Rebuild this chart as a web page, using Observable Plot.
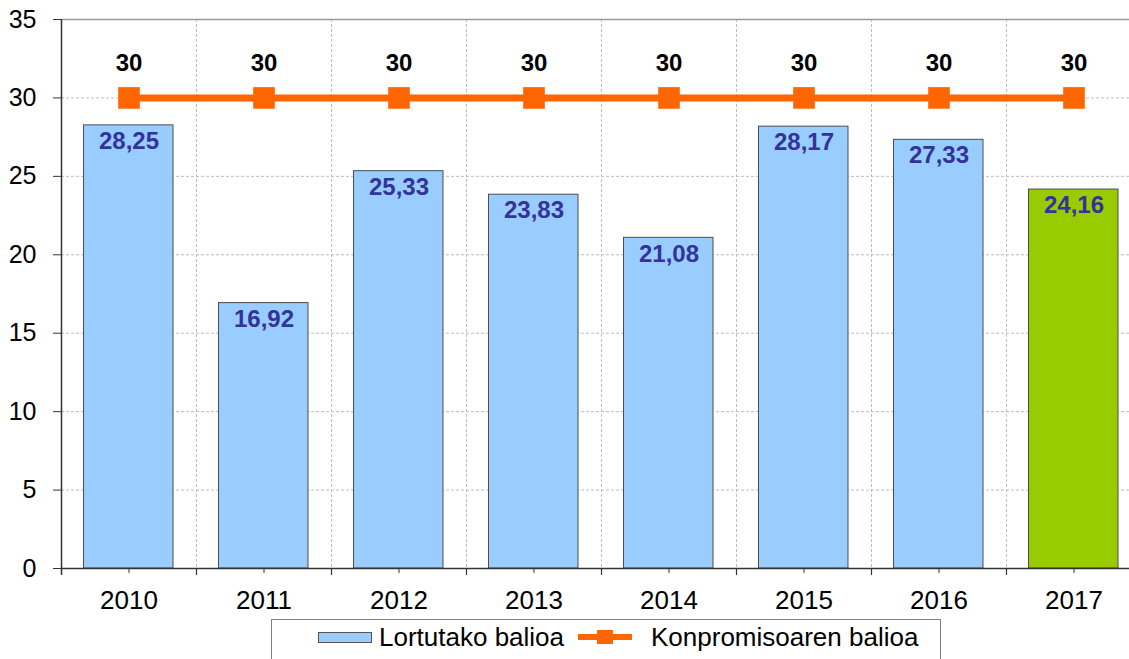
<!DOCTYPE html>
<html>
<head>
<meta charset="utf-8">
<script src="https://cdn.jsdelivr.net/npm/d3@7"></script>
<script src="https://cdn.jsdelivr.net/npm/@observablehq/plot@0.6"></script>
<style>
  html, body { margin: 0; padding: 0; background: #fff; }
  body { font-family: "Liberation Sans", Arial, sans-serif; }
  #wrap { position: relative; width: 1129px; height: 659px; overflow: hidden; }
  #legend { position: absolute; left: 271px; top: 619px; width: 668px; height: 60px;
            border: 1px solid #808080; background: #fff; }
  .sw-bar { position: absolute; left: 46px; top: 12px; width: 52px; height: 9px;
            background: #99CCFF; border: 1px solid #555; }
  .sw-line { position: absolute; left: 306px; top: 14px; width: 54px; height: 6px; background: #FF6600; }
  .sw-sq { position: absolute; left: 325px; top: 10px; width: 16px; height: 14px; background: #FF6600; }
  .lt { position: absolute; top: 2px; font-size: 26px; line-height: 30px; color: #000; white-space: nowrap; }
</style>
</head>
<body>
<div id="wrap">
  <div id="chart"></div>
  <div id="legend">
    <div class="sw-bar"></div>
    <div class="lt" style="left:107px">Lortutako balioa</div>
    <div class="sw-line"></div>
    <div class="sw-sq"></div>
    <div class="lt" style="left:379px">Konpromisoaren balioa</div>
  </div>
</div>
<script>
const years = ["2010", "2011", "2012", "2013", "2014", "2015", "2016", "2017"];
const achieved = [28.25, 16.92, 25.33, 23.83, 21.08, 28.17, 27.33, 24.16];
const commitment = [30, 30, 30, 30, 30, 30, 30, 30];
const yTicks = [0, 5, 10, 15, 20, 25, 30, 35];
const currentYear = "2017";

const bars = years.map((year, i) => ({year, value: achieved[i]}));
const target = years.map((year, i) => ({year, value: commitment[i]}));
const fmt = v => v.toFixed(2).replace(".", ",");

const W = 1129, H = 616;
const xRange = [61, 1141];
const step = (xRange[1] - xRange[0]) / years.length;
const font = "Liberation Sans, Arial, sans-serif";

const chart = Plot.plot({
  width: W,
  height: H,
  marginLeft: 61,
  marginRight: 0,
  marginTop: 19,
  marginBottom: 48,
  style: {fontFamily: font, background: "#fff", overflow: "visible"},
  x: {type: "band", domain: years, range: xRange, padding: 0},
  y: {domain: [0, 35]},
  marks: [
    // horizontal dashed grid
    Plot.ruleY(yTicks.filter(d => d > 0 && d < 35), {stroke: "#bdbdbd", strokeDasharray: "3,2"}),
    // vertical dashed grid at category boundaries
    Plot.ruleX(years.slice(1), {dx: -step / 2, stroke: "#bdbdbd", strokeDasharray: "3,2"}),
    // top border
    Plot.ruleY([35], {stroke: "#9a9a9a", strokeWidth: 1.5}),
    // bars
    Plot.barY(bars.filter(d => d.year !== currentYear), {x: "year", y: "value", fill: "#99CCFF", stroke: "#4d4d4d", strokeWidth: 1, insetLeft: 22.5, insetRight: 23}),
    Plot.barY(bars.filter(d => d.year === currentYear), {x: "year", y: "value", fill: "#99CC00", stroke: "#4d4d4d", strokeWidth: 1, insetLeft: 22.5, insetRight: 23}),
    // bottom axis line
    Plot.ruleY([0], {stroke: "#333", strokeWidth: 1.5}),
    // left axis line and boundary ticks
    Plot.ruleX(years.slice(0, 1), {dx: -step / 2, y1: 35, y2: -0.45, stroke: "#333", strokeWidth: 1.5}),
    Plot.ruleX(years.slice(1), {dx: -step / 2, y1: 0, y2: -0.45, stroke: "#333", strokeWidth: 1.2}),
    // value labels
    Plot.text(bars, {x: "year", y: "value", text: d => fmt(d.value), dy: 16, fill: "#333399", fontWeight: "bold", fontSize: 24}),
    // commitment line
    Plot.line(target, {x: "year", y: "value", stroke: "#FF6600", strokeWidth: 7}),
    Plot.dot(target, {x: "year", y: "value", symbol: "square", r: 12.2, fill: "#FF6600", stroke: "none"}),
    Plot.text(target, {x: "year", y: "value", text: d => String(d.value), dy: -35, fill: "#000", fontWeight: "bold", fontSize: 24}),
    // axes
    Plot.axisY({ticks: yTicks, tickSize: 8, tickPadding: 17, fontSize: 25, label: null, stroke: "#333", fill: "#000"}),
    Plot.axisX({tickSize: 5, tickPadding: 17, fontSize: 26, label: null, stroke: "#333", fill: "#000"})
  ]
});
document.getElementById("chart").appendChild(chart);
</script>
</body>
</html>
